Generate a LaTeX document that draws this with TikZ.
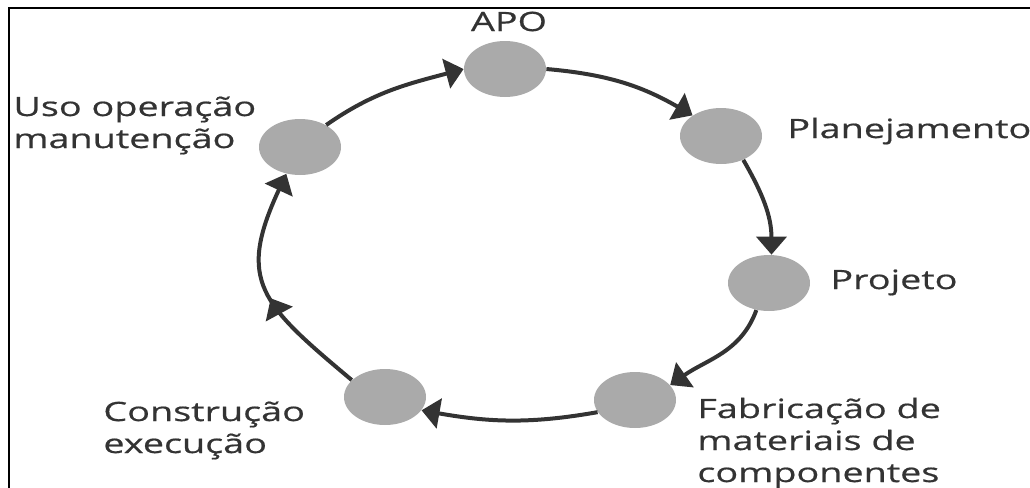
\documentclass[tikz,border=0pt]{standalone}
\usepackage{fontspec}
\setmainfont{Open Sans}[FakeStretch=1.42,FakeBold=0.6]
\usetikzlibrary{shapes.geometric,arrows.meta,decorations.markings}
\definecolor{linegray}{HTML}{333333}
\definecolor{dotgray}{HTML}{AAAAAA}

\begin{document}
\begin{tikzpicture}[x=0.5pt,y=-0.5pt,
    phase/.style={ellipse,fill=dotgray,minimum width=41pt,minimum height=28pt,inner sep=0},
    lbl/.style={inner sep=0,text=linegray,font=\fontsize{13.3}{16}\selectfont,align=left},
    flow/.style={color=linegray,line width=2pt,-{Triangle[length=9pt,width=15pt]}},
    midarrow/.style={postaction={decorate},decoration={markings,mark=at position #1 with {\arrow{Triangle[length=9pt,width=15pt]}}}}]
    \useasboundingbox (0,0) rectangle (1030,488);
    \draw [line width=1.3pt] (9,500) -- (9,8) -- (1040,8);

    \node (APO) at (505,69) [phase]{};
    \node (PLA) at (721,136) [phase]{};
    \node (PRO) at (769,283) [phase]{};
    \node (FAB) at (635,400) [phase]{};
    \node (CON) at (385,397) [phase]{};
    \node (USO) at (300,147) [phase]{};

    % base anchor of a multi-line label = last line
    \node (tAPO) at (509,31) [lbl,anchor=base]{APO};
    \node (tPLA) at (787,138) [lbl,anchor=base west]{Planejamento};
    \node (tPRO) at (830,289) [lbl,anchor=base west]{Projeto};
    \node (tFAB) at (697,482) [lbl,anchor=base west]{Fabricação de\\materiais de\\componentes};
    \node (tCON) at (103,453) [lbl,anchor=base west]{Construção\\execução};
    \node (tUSO) at (13,148) [lbl,anchor=base west]{Uso operação\\manutenção};

    \draw [flow] (USO.40) to [out=35,in=195] (APO.180);
    \draw [flow] (APO.0) to [out=-5,in=150] (PLA.144);
    \draw [flow] (PLA.313) to [out=-60,in=90] (PRO.85);
    \draw [flow] (PRO.245) to [out=-110,in=35] (FAB.23);
    \draw [flow] (FAB.198) to [out=190,in=-10] (CON.340);
    \draw [flow,midarrow=0.47] (CON.153) to [out=140,in=245,looseness=1.4] (USO.243);
  \end{tikzpicture}
\end{document}
